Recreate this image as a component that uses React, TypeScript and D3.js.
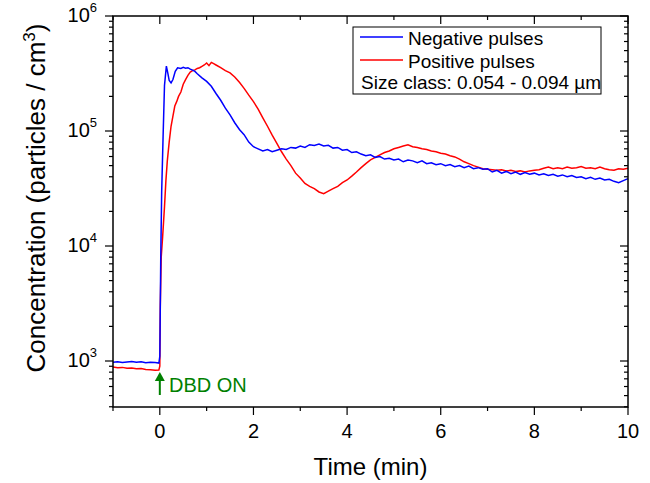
import React from 'react';
import * as d3 from 'd3';

// Negative pulses (blue)
const negTime = [
  -1.0, -0.9, -0.8, -0.7, -0.6, -0.5, -0.4, -0.3, -0.2, -0.1, -0.02,
  0.0, 0.02, 0.04, 0.07, 0.1, 0.14, 0.17, 0.2, 0.24, 0.28, 0.33, 0.38, 0.45, 0.5, 0.55, 0.6, 0.65, 0.7, 0.75, 0.8, 0.9,
  1.0, 1.1, 1.2, 1.3, 1.4, 1.5, 1.6, 1.7, 1.8, 1.9,
  2.0, 2.1, 2.2, 2.3, 2.4, 2.5, 2.6, 2.7, 2.8, 2.9,
  3.0, 3.1, 3.2, 3.3, 3.4, 3.5, 3.6, 3.7, 3.8, 3.9,
  4.0, 4.1, 4.2, 4.3, 4.4, 4.5, 4.6, 4.7, 4.8, 4.9,
  5.0, 5.1, 5.2, 5.3, 5.4, 5.5, 5.6, 5.7, 5.8, 5.9,
  6.0, 6.1, 6.2, 6.3, 6.4, 6.5, 6.6, 6.7, 6.8, 6.9,
  7.0, 7.1, 7.2, 7.3, 7.4, 7.5, 7.6, 7.7, 7.8, 7.9,
  8.0, 8.1, 8.2, 8.3, 8.4, 8.5, 8.6, 8.7, 8.8, 8.9,
  9.0, 9.1, 9.2, 9.3, 9.4, 9.5, 9.6, 9.7, 9.8, 9.9,
  10.0,
];
const negConc = [
  975, 985, 970, 980, 990, 975, 985, 965, 975, 970, 960,
  1100, 8000, 30000, 90000, 250000, 367000, 320000, 275000, 262000, 280000, 330000, 355000, 350000, 358000, 352000, 355000, 345000, 338000, 330000, 315000, 290000,
  270000, 245000, 212000, 185000, 158000, 138000, 118000, 103000, 93000, 80000,
  73000, 70000, 67000, 69000, 66000, 68000, 70000, 69000, 72000, 71000,
  74000, 72000, 76000, 75000, 77000, 74000, 75000, 71000, 72000, 68000,
  69000, 65000, 66000, 63000, 61000, 62000, 59000, 60000, 57000, 58000,
  56000, 57000, 54000, 56000, 55000, 53000, 55000, 52000, 53000, 51000,
  52000, 50000, 51000, 49000, 50000, 48000, 49500, 47000, 48000, 46500,
  47000, 44000, 45500, 43000, 44500, 42500, 44000, 42000, 43500, 42000,
  43000, 41500, 42500, 41000, 42000, 40500, 41500, 40000, 41000, 39500,
  40000, 38500, 39500, 38000, 39000, 37500, 38000, 36500, 35500, 37000,
  38500,
];

// Positive pulses (red)
const posTime = [
  -1.0, -0.9, -0.8, -0.7, -0.6, -0.5, -0.4, -0.3, -0.2, -0.1, -0.02,
  0.0, 0.01, 0.03, 0.06, 0.1, 0.13, 0.16, 0.2, 0.24, 0.28, 0.32, 0.36, 0.4, 0.45, 0.5, 0.55, 0.6, 0.65, 0.7, 0.75, 0.8, 0.85, 0.9, 0.95,
  1.0, 1.05, 1.1, 1.15, 1.2, 1.3, 1.4, 1.5, 1.6, 1.7, 1.8, 1.9,
  2.0, 2.1, 2.2, 2.3, 2.4, 2.5, 2.6, 2.7, 2.8, 2.9,
  3.0, 3.1, 3.2, 3.3, 3.4, 3.5, 3.6, 3.7, 3.8, 3.9,
  4.0, 4.1, 4.2, 4.3, 4.4, 4.5, 4.6, 4.7, 4.8, 4.9,
  5.0, 5.1, 5.2, 5.3, 5.4, 5.5, 5.6, 5.7, 5.8, 5.9,
  6.0, 6.1, 6.2, 6.3, 6.4, 6.5, 6.6, 6.7, 6.8, 6.9,
  7.0, 7.1, 7.2, 7.3, 7.4, 7.5, 7.6, 7.7, 7.8, 7.9,
  8.0, 8.1, 8.2, 8.3, 8.4, 8.5, 8.6, 8.7, 8.8, 8.9,
  9.0, 9.1, 9.2, 9.3, 9.4, 9.5, 9.6, 9.7, 9.8, 9.9,
  10.0,
];
const posConc = [
  885, 875, 880, 865, 870, 855, 860, 845, 840, 830, 835,
  900, 3000, 8000, 12000, 22000, 37000, 55000, 80000, 110000, 135000, 165000, 180000, 200000, 218000, 255000, 280000, 305000, 325000, 335000, 340000, 350000, 355000, 365000, 375000,
  390000, 370000, 395000, 385000, 375000, 355000, 335000, 320000, 295000, 265000, 235000, 205000,
  180000, 155000, 130000, 110000, 92000, 78000, 66000, 57000, 50000, 43000,
  39000, 35000, 33000, 31500, 29500, 28500, 30000, 31500, 33000, 35500,
  37500, 40500, 44000, 48000, 52000, 56000, 59000, 62000, 65000, 67000,
  70000, 72000, 74000, 76000, 73000, 72000, 70000, 69000, 67000, 66000,
  64000, 63000, 61000, 59500, 57000, 54000, 52000, 50000, 48500, 47000,
  46500, 46000, 45500, 46000, 45000, 45500, 44500, 45000, 44000, 45000,
  45500, 46000, 47500, 48500, 47000, 48000, 47000, 48500, 47500, 48000,
  49000, 47500, 48000, 47000, 48500, 47000, 46000, 45500, 47000, 46500,
  47500,
];

const xMajor = [0, 2, 4, 6, 8, 10];
const xMinor = [-1, 1, 3, 5, 7, 9];
const legendLabels = ['Negative pulses', 'Positive pulses'];
const seriesColors = ['#0000ff', '#ff0000'];
const sizeClass = 'Size class: 0.054 - 0.094 \u00b5m';

const W = 650, H = 483;
const m = { left: 113, right: 628, top: 16, bottom: 407 };
const font = 'Liberation Sans, Arial, Helvetica, sans-serif';

export default function App() {
  const x = d3.scaleLinear().domain([-1, 10]).range([m.left, m.right]);
  const y = d3.scaleLog().domain([Math.pow(10, 2.6), 1e6]).range([m.bottom, m.top]);

  const line = d3.line<[number, number]>()
    .x(d => x(d[0]))
    .y(d => y(d[1]));

  const neg = d3.zip(negTime, negConc) as [number, number][];
  const pos = d3.zip(posTime, posConc) as [number, number][];

  const yTicks = y.ticks();
  const isMajor = (v: number) => Math.abs(Math.log10(v) - Math.round(Math.log10(v))) < 1e-6;

  const axis = { stroke: 'black', strokeWidth: 1.5 };
  const tick = { stroke: 'black', strokeWidth: 1.2 };

  let ticks: JSX.Element[] = [];
  xMajor.forEach((t, i) => {
    ticks.push(<line key={'xb' + i} style={tick} x1={x(t)} x2={x(t)} y1={m.bottom} y2={m.bottom + 8} />);
    ticks.push(<line key={'xt' + i} style={tick} x1={x(t)} x2={x(t)} y1={m.top} y2={m.top + 8} />);
  });
  xMinor.forEach((t, i) => {
    ticks.push(<line key={'xbm' + i} style={tick} x1={x(t)} x2={x(t)} y1={m.bottom} y2={m.bottom + 4} />);
    ticks.push(<line key={'xtm' + i} style={tick} x1={x(t)} x2={x(t)} y1={m.top} y2={m.top + 4} />);
  });
  yTicks.forEach((t, i) => {
    const len = isMajor(t) ? 8 : 4;
    ticks.push(<line key={'yl' + i} style={tick} x1={m.left - len} x2={m.left} y1={y(t)} y2={y(t)} />);
    ticks.push(<line key={'yr' + i} style={tick} x1={m.right - len} x2={m.right} y1={y(t)} y2={y(t)} />);
  });

  const xLabels = xMajor.map((t, i) => (
    <text key={'xl' + i} x={x(t)} y={438} textAnchor="middle" fontSize={20} fontFamily={font}>{t}</text>
  ));
  const yLabels = yTicks.filter(isMajor).map((t, i) => (
    <text key={'ylab' + i} x={97} y={y(t) + 6} textAnchor="end" fontSize={20} fontFamily={font}>
      10<tspan dy={-10} fontSize={13}>{Math.round(Math.log10(t))}</tspan>
    </text>
  ));

  const ax = x(0);
  const green = '#008000';

  return (
    <svg width={W} height={H} style={{ position: 'absolute', left: 0, top: 0, background: 'white' }}>
      <path d={line(pos) || ''} fill="none" stroke={seriesColors[1]} strokeWidth={1.5} />
      <path d={line(neg) || ''} fill="none" stroke={seriesColors[0]} strokeWidth={1.5} />

      <rect x={m.left} y={m.top} width={m.right - m.left} height={m.bottom - m.top} fill="none" style={axis} />
      {ticks}
      {xLabels}
      {yLabels}

      <text x={(m.left + m.right) / 2} y={475} textAnchor="middle" fontSize={24} fontFamily={font}>Time (min)</text>
      <text transform={`translate(45,198) rotate(-90)`} textAnchor="middle" fontSize={26} fontFamily={font}>
        Concentration (particles / cm<tspan dy={-10} fontSize={17}>3</tspan><tspan dy={10}>)</tspan>
      </text>

      <g>
        <rect x={353} y={27} width={248} height={67} fill="white" stroke="black" strokeWidth={1} />
        {legendLabels.map((l, i) => (
          <g key={l}>
            <line x1={360} x2={403} y1={37 + i * 23} y2={37 + i * 23} stroke={seriesColors[i]} strokeWidth={1.5} />
            <text x={408} y={45 + i * 23} fontSize={19} fontFamily={font}>{l}</text>
          </g>
        ))}
        <text x={361} y={89} fontSize={19} fontFamily={font}>{sizeClass}</text>
      </g>

      <g>
        <line x1={ax} x2={ax} y1={380} y2={395} stroke={green} strokeWidth={2} />
        <path d={`M${ax - 5},${381} L${ax},${372} L${ax + 5},${381} Z`} fill={green} />
        <text x={169} y={392} fontSize={20} fontFamily={font} fill={green}>DBD ON</text>
      </g>
    </svg>
  );
}
